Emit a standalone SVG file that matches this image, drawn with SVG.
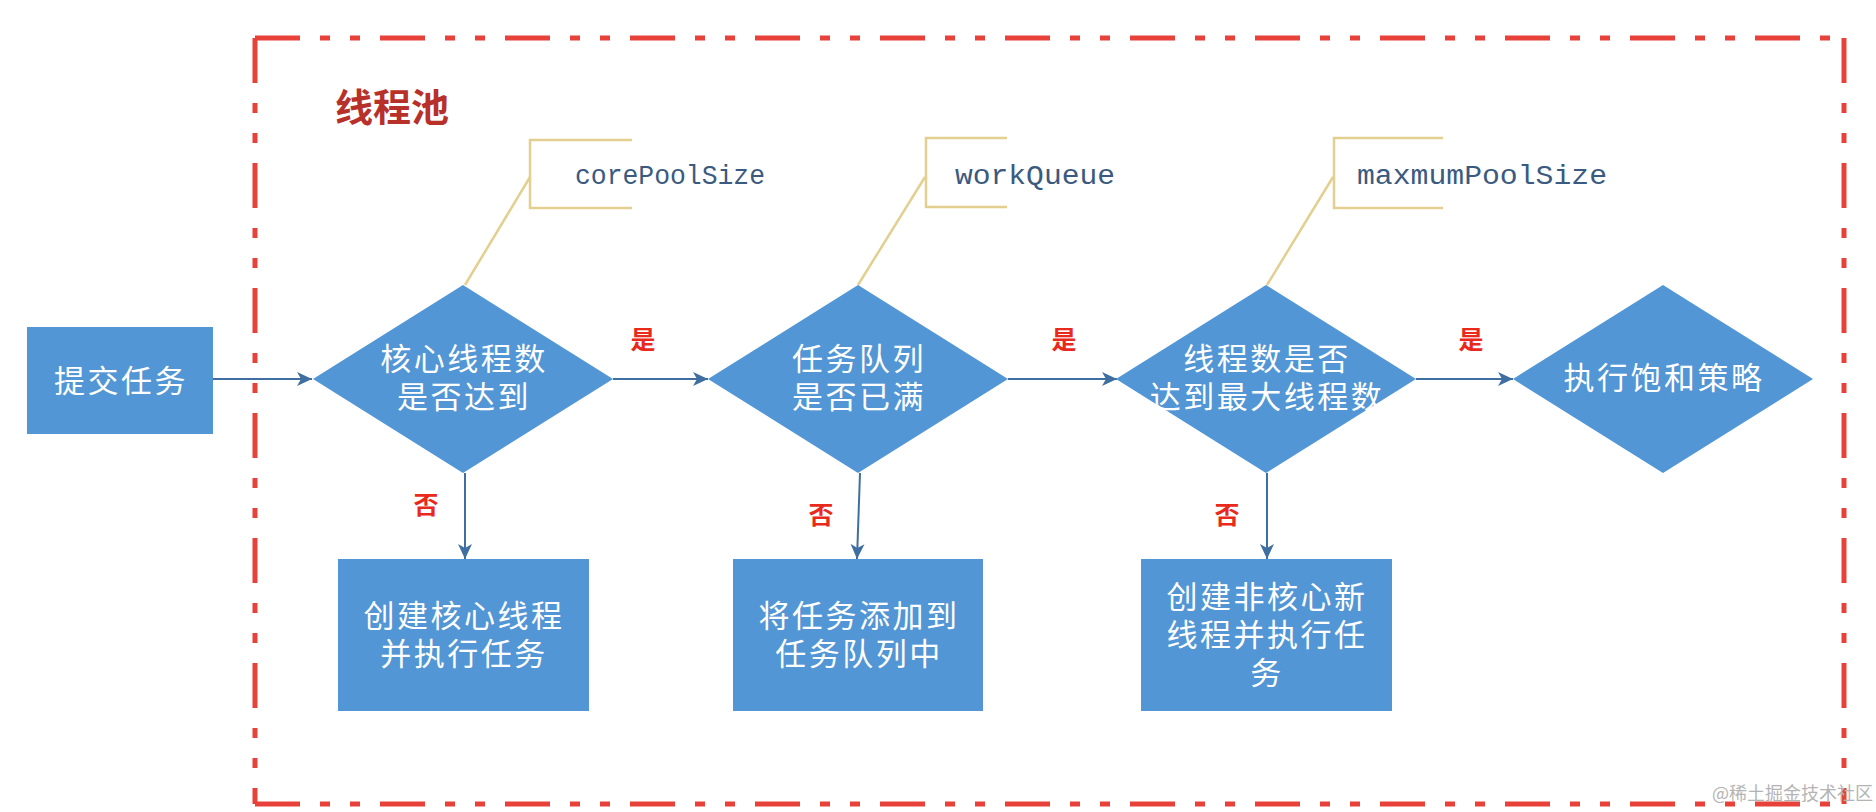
<svg xmlns="http://www.w3.org/2000/svg" width="1876" height="812" viewBox="0 0 1876 812">
<defs>
<marker id="ah" markerUnits="userSpaceOnUse" markerWidth="16" markerHeight="14" refX="15" refY="7" orient="auto">
<path d="M0,0 L15,7 L0,14 L4,7 z" fill="#3f6fa0"/>
</marker>
<style>
.shape{fill:#5296d5;}
.w{fill:#ffffff;font-family:"Noto Sans CJK SC","Noto Sans",sans-serif;font-size:31px;letter-spacing:2.5px;text-anchor:middle;}
.lbl{fill:#e8291c;font-family:"Noto Sans CJK SC",sans-serif;font-size:25px;font-weight:bold;text-anchor:middle;}
.conn{stroke:#3f6fa0;stroke-width:2;fill:none;marker-end:url(#ah);}
.br{stroke:#e3cf8f;stroke-width:2.5;fill:none;}
.mono{fill:#3a5a80;font-family:"Liberation Mono",monospace;font-size:27px;}
.frame{stroke:#e8413a;stroke-width:5;fill:none;stroke-dasharray:45 20 10 20 10 20;}
</style>
</defs>
<rect width="1876" height="812" fill="#ffffff"/>
<g id="frame">
<line class="frame" x1="255" y1="38" x2="1844" y2="38"/>
<line class="frame" x1="1844" y1="38" x2="1844" y2="804"/>
<line class="frame" x1="255" y1="804" x2="1844" y2="804"/>
<line class="frame" x1="255" y1="38" x2="255" y2="804"/>
</g>
<text id="title" x="335" y="121" fill="#b8302a" font-family="Noto Sans CJK SC,sans-serif" font-size="38" font-weight="bold">线程池</text>
<g id="callouts">
<path class="br" d="M632,140 L530,140 L530,208 L632,208"/>
<line class="br" x1="530" y1="177" x2="465" y2="285" stroke-width="1.5"/>
<text class="mono" x="575" y="184" textLength="190" lengthAdjust="spacingAndGlyphs">corePoolSize</text>
<path class="br" d="M1007,138 L926,138 L926,207 L1007,207"/>
<line class="br" x1="925" y1="177" x2="858" y2="285" stroke-width="1.5"/>
<text class="mono" x="955" y="184" textLength="160" lengthAdjust="spacingAndGlyphs">workQueue</text>
<path class="br" d="M1443,138 L1334,138 L1334,208 L1443,208"/>
<line class="br" x1="1333" y1="177" x2="1267" y2="285" stroke-width="1.5"/>
<text class="mono" x="1357" y="184" textLength="250" lengthAdjust="spacingAndGlyphs">maxmumPoolSize</text>
</g>
<g id="connectors">
<line class="conn" x1="213" y1="379" x2="312" y2="379"/>
<line class="conn" x1="613" y1="379" x2="708" y2="379"/>
<line class="conn" x1="1008" y1="379" x2="1117" y2="379"/>
<line class="conn" x1="1416" y1="379" x2="1513" y2="379"/>
<line class="conn" x1="465" y1="473" x2="465" y2="559"/>
<line class="conn" x1="860" y1="473" x2="857" y2="559"/>
<line class="conn" x1="1267" y1="473" x2="1267" y2="559"/>
<text class="lbl" x="643" y="349">是</text>
<text class="lbl" x="1064" y="349">是</text>
<text class="lbl" x="1471" y="349">是</text>
<text class="lbl" x="426" y="514">否</text>
<text class="lbl" x="821" y="524">否</text>
<text class="lbl" x="1227" y="524">否</text>
</g>
<g id="submit">
<rect class="shape" x="27" y="327" width="186" height="107"/>
<text class="w" x="121" y="392" font-size="37" letter-spacing="0">提交任务</text>
</g>
<g id="d1">
<polygon class="shape" points="463,285 613,379 463,473 313,379"/>
<text class="w" x="464" y="370">核心线程数<tspan x="464" dy="38">是否达到</tspan></text>
</g>
<g id="d2">
<polygon class="shape" points="858,285 1008,379 858,473 708,379"/>
<text class="w" x="859" y="370">任务队列<tspan x="859" dy="38">是否已满</tspan></text>
</g>
<g id="d3">
<polygon class="shape" points="1266,285 1416,379 1266,473 1116,379"/>
<text class="w" x="1267" y="370">线程数是否<tspan x="1267" dy="38">达到最大线程数</tspan></text>
</g>
<g id="d4">
<polygon class="shape" points="1663,285 1813,379 1663,473 1513,379"/>
<text class="w" x="1664" y="389">执行饱和策略</text>
</g>
<g id="b1">
<rect class="shape" x="338" y="559" width="251" height="152"/>
<text class="w" x="464" y="627">创建核心线程<tspan x="464" dy="38">并执行任务</tspan></text>
</g>
<g id="b2">
<rect class="shape" x="733" y="559" width="250" height="152"/>
<text class="w" x="859" y="627">将任务添加到<tspan x="859" dy="38">任务队列中</tspan></text>
</g>
<g id="b3">
<rect class="shape" x="1141" y="559" width="251" height="152"/>
<text class="w" x="1267" y="608">创建非核心新<tspan x="1267" dy="38">线程并执行任</tspan><tspan x="1267" dy="38">务</tspan></text>
</g>
<text id="watermark" x="1712" y="800" fill="#b4b4b4" font-family="Noto Sans CJK SC,sans-serif" font-size="18">@稀土掘金技术社区</text>
</svg>
